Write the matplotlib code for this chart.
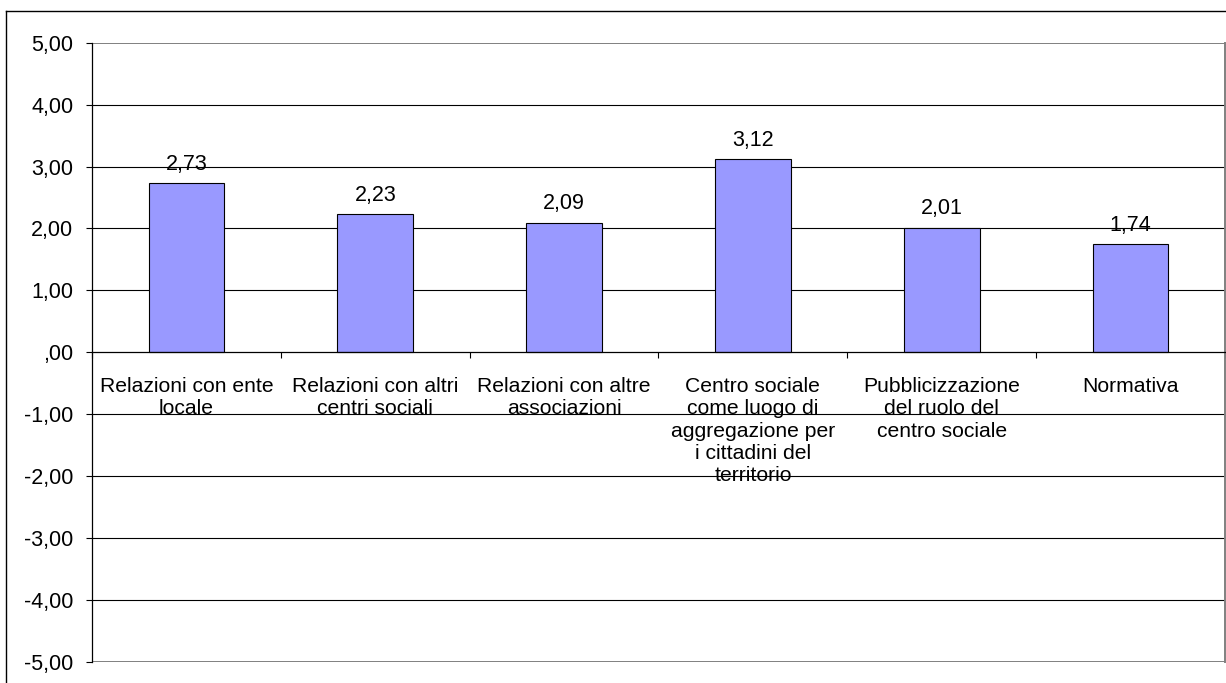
import matplotlib
matplotlib.use("Agg")
import matplotlib.pyplot as plt
from matplotlib.lines import Line2D
from matplotlib.ticker import FixedLocator, FuncFormatter
import numpy as np

plt.rcParams['font.family'] = ['Liberation Sans', 'DejaVu Sans']

categories = [
    "Relazioni con ente\nlocale",
    "Relazioni con altri\ncentri sociali",
    "Relazioni con altre\nassociazioni",
    "Centro sociale\ncome luogo di\naggregazione per\ni cittadini del\nterritorio",
    "Pubblicizzazione\ndel ruolo del\ncentro sociale",
    "Normativa",
]
values = [2.73, 2.23, 2.09, 3.12, 2.01, 1.74]
y_ticks = [-5, -4, -3, -2, -1, 0, 1, 2, 3, 4, 5]

W, H = 1226, 683
fig = plt.figure(figsize=(W / 100, H / 100), dpi=100)
ax = fig.add_axes([92 / W, 1 - 661.7 / H, (1225 - 92) / W, (661.7 - 42.7) / H])

x = np.arange(len(categories))
ax.bar(x, values, width=0.4, color="#9999FF", edgecolor="black",
       linewidth=0.8, zorder=3)

ax.set_xlim(-0.5, len(categories) - 0.5)
ax.set_ylim(-5, 5)

# horizontal gridlines (inner ones black, plot-area frame grey)
for t in y_ticks:
    if t in (-5, 5):
        ax.axhline(t, color="#808080", linewidth=1.4, zorder=1)
    elif t != 0:
        ax.axhline(t, color="black", linewidth=0.8, zorder=1)

# value labels above bars
for xi, v in zip(x, values):
    ax.annotate(f"{v:.2f}".replace(".", ","), (xi, v), xytext=(0, 6),
                textcoords="offset points", ha="center", va="bottom",
                fontsize=15.5, color="black")

# y axis
def fmt(v, _):
    s = f"{v:.2f}".replace(".", ",")
    if s.startswith("0,"):
        s = s[1:]
    return s

ax.yaxis.set_major_locator(FixedLocator(y_ticks))
ax.yaxis.set_major_formatter(FuncFormatter(fmt))
ax.tick_params(axis="y", direction="out", length=4.5, width=0.8, pad=9,
               labelsize=15.5, colors="black")

# x axis on the zero line, ticks at category boundaries
ax.spines["bottom"].set_position(("data", 0))
ax.spines["bottom"].set_zorder(4)
ax.spines["bottom"].set_linewidth(0.9)
ax.spines["left"].set_linewidth(0.9)
ax.spines["left"].set_zorder(4)
ax.spines["top"].set_visible(False)
ax.spines["right"].set_color("#808080")
ax.spines["right"].set_linewidth(1.4)

ax.set_xticks(x)
ax.set_xticklabels(categories, fontsize=15.2, linespacing=1.21)
ax.tick_params(axis="x", which="major", length=0, pad=18)
ax.set_xticks(np.arange(len(categories) + 1) - 0.5, minor=True)
ax.tick_params(axis="x", which="minor", direction="out", length=4.5, width=0.8)

# outer chart border (top and left edges visible)
fig.add_artist(Line2D([6 / W, 1.0], [1 - 11 / H, 1 - 11 / H],
                      transform=fig.transFigure, color="black", linewidth=1.0))
fig.add_artist(Line2D([6 / W, 6 / W], [0.0, 1 - 11 / H],
                      transform=fig.transFigure, color="black", linewidth=1.0))

fig.savefig("out.png", dpi=100, facecolor="white")
